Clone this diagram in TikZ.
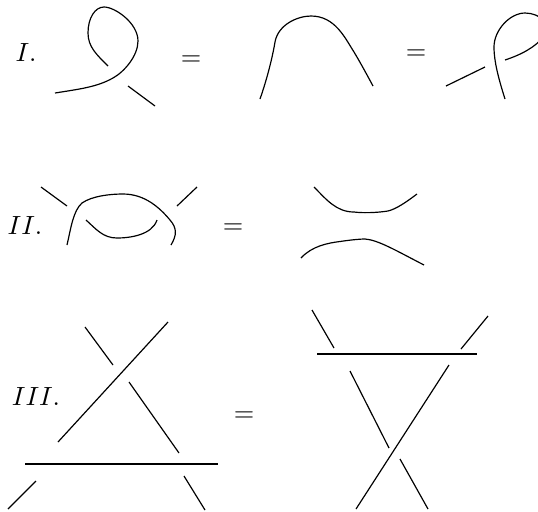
\documentclass[tikz,border=0pt]{standalone}
\usepackage{amsmath}
\usepackage{tikz}

\begin{document}
\begin{tikzpicture}[x=0.38pt,y=-0.38pt,strand/.style={line width=0.45pt}]

\useasboundingbox (0,0) rectangle (538,511);

\node (labelI) at (26,52) {$I.$};
\draw[strand] (108,66) .. controls (97,55) and (88,47) .. (88,33) .. controls (88,18) and (95,7) .. (104,7) .. controls (115,7) and (138,23) .. (138,41) .. controls (138,56) and (124,72) .. (113,78) .. controls (97,87) and (80,89) .. (55,93);
\draw[strand] (128,86) -- (155,106);
\node (eqIa) at (191,61) {$=$};
\draw[strand] (260,99) .. controls (266,82) and (272,60) .. (275,42) .. controls (278,25) and (297,16) .. (311,16) .. controls (335,16) and (345,38) .. (354,52) .. controls (360,62) and (366,73) .. (373,86);
\node (eqIb) at (416,55) {$=$};
\draw[strand] (446,86) -- (485,67);
\draw[strand] (505,99) .. controls (499,80) and (494,62) .. (494,47) .. controls (494,30) and (510,13) .. (525,13) .. controls (540,13) and (553,25) .. (545,35) .. controls (535,48) and (520,55) .. (505,60);

\node (labelII) at (25,225) {$II.$};
\draw[strand] (41,187) -- (67,206);
\draw[strand] (197,187) -- (177,206);
\draw[strand] (67,245) .. controls (71,228) and (73,211) .. (82,203) .. controls (92,196) and (110,194) .. (123,194) .. controls (145,194) and (160,208) .. (170,220) .. controls (177,228) and (177,235) .. (171,245);
\draw[strand] (86,220) .. controls (96,229) and (103,238) .. (117,238) .. controls (130,238) and (152,235) .. (157,220);
\node (eqII) at (233,229) {$=$};
\draw[strand] (314,187) .. controls (326,199) and (336,212) .. (354,212) .. controls (362,213) and (375,213) .. (388,211) .. controls (396,209) and (405,203) .. (417,194);
\draw[strand] (301,258) .. controls (312,246) and (328,243) .. (340,241.5) .. controls (350,240) and (360,239) .. (365,239) .. controls (378,240) and (395,250) .. (424,265);

\node (labelIII) at (36,396) {$III.$};
\draw[strand] (168,322) -- (58,442);
\draw[strand] (85,327) -- (113,365);
\draw[strand] (129,382) -- (179,453);
\draw[strand] (25,464) -- (218,464);
\draw[strand] (36,481) -- (8,509);
\draw[strand] (184,476) -- (205,510);
\node (eqIII) at (244,417) {$=$};

\draw[strand] (312,310) -- (334,348);
\draw[strand] (488,316) -- (461,349);
\draw[strand] (317,354) -- (477,354);
\draw[strand] (350,371) -- (389,448);
\draw[strand] (449,365) -- (356,509);
\draw[strand] (400,459) -- (428,509);

\end{tikzpicture}
\end{document}
